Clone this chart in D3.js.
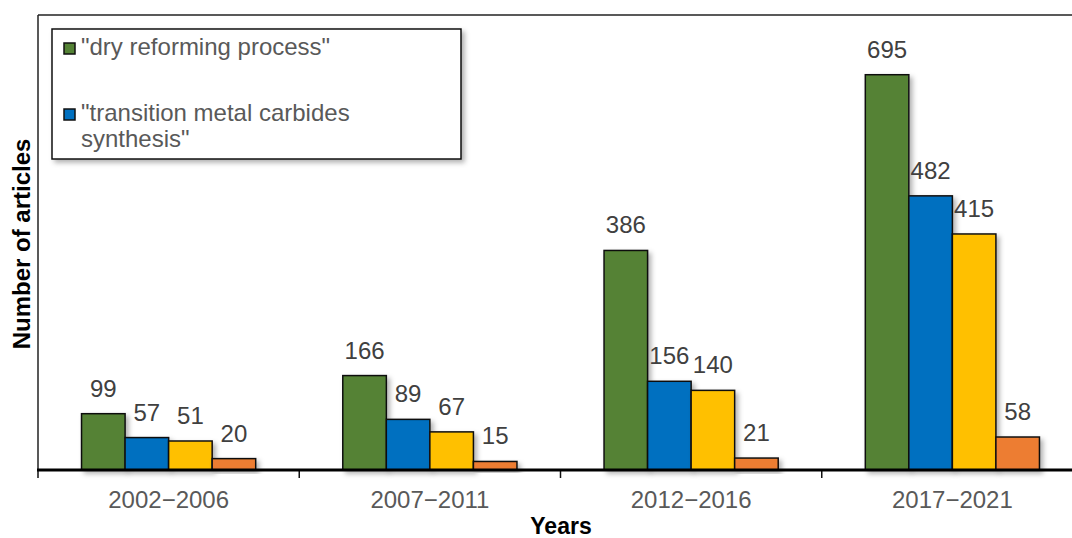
<!DOCTYPE html>
<html>
<head>
<meta charset="utf-8">
<script src="https://cdn.jsdelivr.net/npm/d3@7"></script>
<style>
  body { margin: 0; background: #fff; }
  text { font-family: "Liberation Sans", Arial, sans-serif; }
</style>
</head>
<body>
<svg id="chart" width="1072" height="538"></svg>
<script>
// data
var periods = ["2002\u22122006", "2007\u22122011", "2012\u22122016", "2017\u22122021"];
var series = ["dry reforming process", "transition metal carbides synthesis", "series 3", "series 4"];
var legendLabels = ["\"dry reforming process\"", "\"transition metal carbides", "synthesis\""];
var dryReforming = [99, 166, 386, 695];
var metalCarbides = [57, 89, 156, 482];
var series3 = [51, 67, 140, 415];
var series4 = [20, 15, 21, 58];
var colors = ["#548235", "#0070C0", "#FFC000", "#ED7D31"];

var margin = {top: 15, left: 38, bottom: 470, right: 1083};

var svg = d3.select("#chart");

var defs = svg.append("defs");
var f = defs.append("filter").attr("id", "shadow")
    .attr("x", "-20%").attr("y", "-20%").attr("width", "150%").attr("height", "150%");
f.append("feDropShadow").attr("dx", 3).attr("dy", 3).attr("stdDeviation", 2.5)
    .attr("flood-color", "#000").attr("flood-opacity", 0.3);

var x = d3.scaleBand()
    .domain(periods)
    .range([margin.left, margin.right])
    .paddingInner(0).paddingOuter(0);

var xInner = d3.scaleBand()
    .domain(series)
    .range([0, x.bandwidth()])
    .paddingInner(0).paddingOuter(1);

var y = d3.scaleLinear()
    .domain([0, 800])
    .range([margin.bottom, margin.top]);

// frame
svg.append("line")
    .attr("x1", margin.left).attr("x2", margin.right)
    .attr("y1", margin.top).attr("y2", margin.top)
    .attr("stroke", "#222").attr("stroke-width", 1.5);
svg.append("line")
    .attr("x1", margin.left).attr("x2", margin.left)
    .attr("y1", margin.top).attr("y2", margin.bottom)
    .attr("stroke", "#222").attr("stroke-width", 1.5);

var table = periods.map(function(p, i) {
    return {period: p, values: [dryReforming[i], metalCarbides[i], series3[i], series4[i]]};
});

var groups = svg.selectAll(".grp")
    .data(table)
    .enter().append("g")
    .attr("class", "grp")
    .attr("transform", function(d) { return "translate(" + x(d.period) + ",0)"; });

groups.selectAll("rect")
    .data(function(d) { return d.values.map(function(v, j) { return {s: series[j], v: v, c: colors[j]}; }); })
    .enter().append("rect")
    .attr("x", function(d) { return xInner(d.s); })
    .attr("y", function(d) { return y(d.v); })
    .attr("width", xInner.bandwidth())
    .attr("height", function(d) { return y(0) - y(d.v); })
    .attr("fill", function(d) { return d.c; })
    .attr("stroke", "#111")
    .attr("stroke-width", 1.5)
    .attr("filter", "url(#shadow)");

groups.selectAll("text.val")
    .data(function(d) { return d.values.map(function(v, j) { return {s: series[j], v: v}; }); })
    .enter().append("text")
    .attr("class", "val")
    .attr("x", function(d) { return xInner(d.s) + xInner.bandwidth() / 2; })
    .attr("y", function(d) { return y(d.v) - 17; })
    .attr("text-anchor", "middle")
    .attr("font-size", 24)
    .attr("fill", "#404040")
    .text(function(d) { return d.v; });

// x axis
var xAxis = d3.axisBottom(x).tickSize(0).tickPadding(0);
var gx = svg.append("g")
    .attr("transform", "translate(0," + margin.bottom + ")")
    .call(xAxis);
gx.select(".domain").remove();
gx.selectAll(".tick text")
    .attr("y", 38).attr("dy", 0)
    .attr("font-size", 24)
    .attr("font-family", "Liberation Sans, Arial, sans-serif")
    .attr("fill", "#595959");

var edges = periods.map(function(p) { return x(p); }).concat([x.range()[1]]);
svg.selectAll("line.tk")
    .data(edges)
    .enter().append("line")
    .attr("class", "tk")
    .attr("x1", function(d) { return d; }).attr("x2", function(d) { return d; })
    .attr("y1", margin.bottom).attr("y2", margin.bottom + 8)
    .attr("stroke", "#111").attr("stroke-width", 1.5);

svg.append("line")
    .attr("x1", margin.left - 1).attr("x2", margin.right)
    .attr("y1", margin.bottom).attr("y2", margin.bottom)
    .attr("stroke", "#000").attr("stroke-width", 3);

// axis titles
svg.append("text")
    .attr("x", 561).attr("y", 534)
    .attr("text-anchor", "middle")
    .attr("font-size", 23).attr("font-weight", "bold")
    .attr("fill", "#000")
    .text("Years");

svg.append("text")
    .attr("transform", "translate(30,244) rotate(-90)")
    .attr("text-anchor", "middle")
    .attr("font-size", 24).attr("font-weight", "bold")
    .attr("fill", "#000")
    .text("Number of articles");

// legend
var lg = svg.append("g");
lg.append("rect")
    .attr("x", 52).attr("y", 29).attr("width", 409).attr("height", 130)
    .attr("fill", "#fff").attr("stroke", "#111").attr("stroke-width", 1.5)
    .attr("filter", "url(#shadow)");

var legendRows = [
    {c: colors[0], lines: [legendLabels[0]], y: 55},
    {c: colors[1], lines: [legendLabels[1], legendLabels[2]], y: 121}
];
legendRows.forEach(function(r) {
    lg.append("rect")
        .attr("x", 64).attr("y", r.y - 12).attr("width", 11).attr("height", 11)
        .attr("fill", r.c).attr("stroke", "#111").attr("stroke-width", 1.5);
    r.lines.forEach(function(t, k) {
        lg.append("text")
            .attr("x", 81).attr("y", r.y + k * 26)
            .attr("font-size", 24)
            .attr("fill", "#595959")
            .text(t);
    });
});
</script>
</body>
</html>
